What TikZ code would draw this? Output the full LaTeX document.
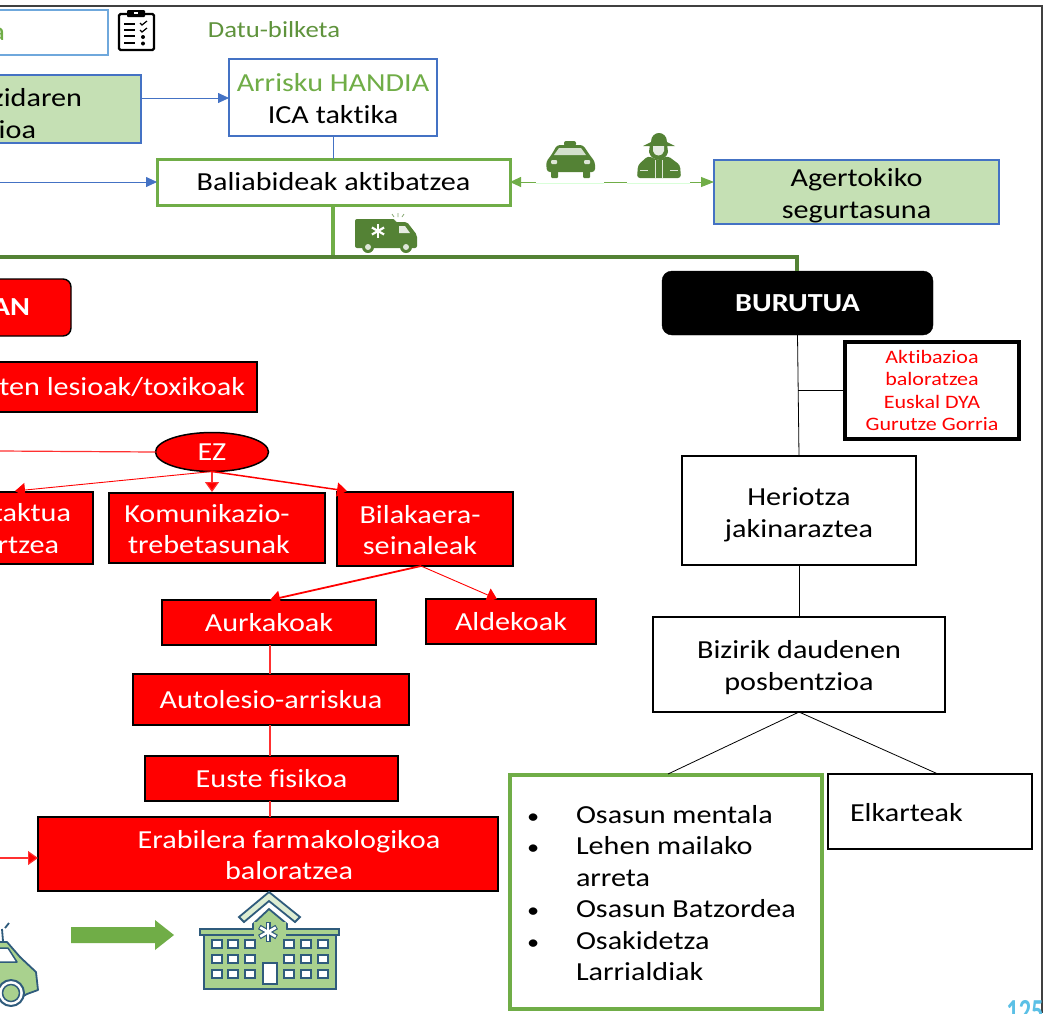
\documentclass[tikz,border=0pt]{standalone}
\usepackage{fontspec}
\setmainfont[FakeStretch=1.16,Ligatures={NoCommon}]{Carlito}
\usetikzlibrary{arrows.meta,shapes.geometric,calc}
\definecolor{gfill}{HTML}{C5E0B4}
\definecolor{bblue}{HTML}{4472C4}
\definecolor{lblue}{HTML}{6FA8DC}
\definecolor{lgreen}{HTML}{70AD47}
\definecolor{dgreen}{HTML}{548235}
\definecolor{lnpink}{HTML}{FF3030}
\definecolor{hgreen}{HTML}{A9D18E}
\definecolor{hblue}{HTML}{2F5B7C}
\definecolor{pagenum}{HTML}{5BC0E6}
\newcommand{\pbox}[7]{%
  \pgfmathsetmacro{\cxx}{(#3+#5)/2}\pgfmathsetmacro{\cyy}{(#4+#6)/2}%
  \pgfmathsetmacro{\www}{#5-#3}\pgfmathsetmacro{\hhh}{#6-#4}%
  \node[#2,minimum width=\www pt,minimum height=\hhh pt] (#1) at (\cxx,\cyy) {#7};}
\newcommand{\lowr}[1]{\rule{0pt}{#1pt}}
\tikzset{
  base/.style={rectangle,inner sep=0pt,outer sep=0pt,align=center,font=\fontsize{26}{31.5}\selectfont},
  txt/.style={inner sep=0pt,outer sep=0pt,align=center,font=\fontsize{26}{31.5}\selectfont},
  bluebox/.style={base,draw=bblue,line width=1.2pt,fill=white},
  greenfill/.style={base,draw=bblue,line width=1.2pt,fill=gfill},
  greenbox/.style={base,draw=lgreen,line width=3pt,fill=white},
  redbox/.style={base,draw=black,line width=1.4pt,fill=red,text=white},
  blackbox/.style={base,draw=black,line width=1.1pt,fill=white},
  blueln/.style={draw=bblue,line width=0.8pt},
  bluearr/.style={blueln,-{Triangle[length=11pt,width=10pt]}},
  greenln/.style={draw=lgreen,line width=0.9pt},
  redln/.style={draw=red,line width=0.9pt},
  pinkln/.style={draw=lnpink,line width=1.2pt},
  redarr/.style={-{Triangle[length=10pt,width=14pt,fill=red]}},
  ic/.style={fill=dgreen,draw=none},
}
\begin{document}
\begin{tikzpicture}[x=1pt,y=-1pt]
\useasboundingbox (0,0) rectangle (1049,1013);
\fill[white] (0,0) rectangle (1049,1013);
\clip (0,0) rectangle (1049,1013);
% frame
\draw[black!75,line width=1.4pt] (0,6) -- (1042,6) -- (1042,1013);
% top row
\pbox{datu}{base,draw=lblue,line width=1.6pt,fill=white}{-60}{10}{108}{55}{}
\node[txt,text=lgreen,anchor=east] (datuT) at (5,34) {a};
\node[txt,text=lgreen!85!black,font=\fontsize{23}{26}\selectfont] (bilketa) at (274,30) {Datu-bilketa};
% clipboard
\draw[black,line width=2.4pt,rounded corners=1.5pt,fill=white] (119,14) rectangle (154,50);
\fill[black,rounded corners=1pt] (127,10) rectangle (145,17);
\fill[white] (134,11.5) rectangle (138,14);
\foreach \yy in {24,30,36,43}{\draw[black,line width=1.8pt] (124,\yy) -- (135,\yy);}
\draw[black,line width=1.2pt] (140,23) -- (142,25) -- (147,21);
\draw[black,line width=1.2pt] (140,30) -- (142,32) -- (147,28);
\fill[black] (143,37) circle (2); \fill[black] (143,43.5) circle (2);
% green box + ICA
\pbox{gorabide}{greenfill}{-60}{75}{141}{143}{}
\node[txt,anchor=east] (gorabideA) at (82,98) {zidaren};
\node[txt,anchor=east] (gorabideB) at (36,130) {ioa};
\pbox{ica}{bluebox}{229}{59}{437}{136}{\lowr{20}\textcolor{lgreen}{Arrisku HANDIA}\\ICA taktika}
\pbox{balia}{greenbox}{157}{159}{510}{205}{Baliabideak aktibatzea}
\pbox{agert}{greenfill}{714}{160}{999}{224}{\lowr{25}Agertokiko\\segurtasuna}
\coordinate (g1) at (141,98);
\draw[bluearr] (g1) -- (g1-|ica.west);
\draw[blueln] (ica.south) -- (ica.south|-balia.north);
\coordinate (leftB) at (0,182);
\draw[bluearr] (leftB) -- (leftB-|balia.west);
\draw[greenln,{Triangle[length=11pt,width=10pt]}-{Triangle[length=13pt,width=10pt]}] (balia.east) -- (agert.west|-balia.east);
% taxi and police patches
\fill[white] (536,132) rectangle (604,184);
\fill[white] (627,128) rectangle (690,184);
\draw[green!15!white,line width=0.8pt] (536,183) -- (604,183) (627,183) -- (690,183);
% taxi
\fill[ic,rounded corners=2pt] (564,141) rectangle (576,146);
\fill[ic,rounded corners=3pt] (547,172) -- (546,162) -- (552,154) -- (557,145) -- (583,145) -- (589,154) -- (595,162) -- (595,172) -- cycle;
\fill[white!75!dgreen] (554,155) -- (559,148) -- (581,148) -- (586,155) -- cycle;
\fill[white!80!dgreen,rounded corners=1pt] (551,160) rectangle (557,164);
\fill[white!80!dgreen,rounded corners=1pt] (584,160) rectangle (590,164);
\fill[ic,rounded corners=1pt] (551,170) rectangle (558,178);
\fill[ic,rounded corners=1pt] (583,170) rectangle (590,178);
% police
\fill[ic] (651,142) .. controls (651,130) and (667,130) .. (667,142) -- (675,146) -- (643,146) -- cycle;
\fill[ic] (650,144) -- (667,144) -- (668,152) .. controls (666,162) and (651,162) .. (649,152) -- cycle;
\fill[white!85!dgreen] (653,146) -- (664,146) -- (664,151) .. controls (663,157) and (654,157) .. (653,151) -- cycle;
\fill[ic,rounded corners=3pt] (637,178) -- (638,165) -- (648,156) -- (658,160) -- (668,156) -- (680,165) -- (681,178) -- cycle;
\draw[white!80!dgreen,line width=0.8pt] (655,160) -- (655,178) (662,160) -- (662,178) (640,170) -- (648,170) (670,170) -- (678,170);
% main branch
\coordinate (branchL) at (0,257);
\coordinate (branchM) at (333,257);
\coordinate (branchR) at (797,257);
\pbox{burutua}{base,draw=black,fill=black,text=white,rounded corners=10pt,font=\fontsize{26}{30}\selectfont\bfseries}{662}{271}{933}{335}{BURUTUA}
\draw[lgreen,line width=4pt] (branchM|-balia.south) -- (branchM);
\draw[dgreen,line width=3.2pt,line join=miter] (branchL) -- (branchR) -- (branchR|-burutua.north);
% ambulance
\begin{scope}[shift={(2,3)}]
\fill[ic,rounded corners=2pt] (353,216) -- (393,216) -- (393,219) -- (405,219) -- (415,232) -- (415,245) -- (353,245) -- cycle;
\fill[ic] (366,244) circle (6); \fill[white!80!dgreen] (366,244) circle (3);
\fill[ic] (404,244) circle (6); \fill[white!80!dgreen] (404,244) circle (3);
\fill[white!85!dgreen] (397,223) -- (403,223) -- (408,230) -- (397,230) -- cycle;
\foreach \aa in {0,60,120}{\draw[white,line width=2.2pt,rotate around={\aa:(376,228)}] (376,221) -- (376,235);}
\draw[dgreen!70!white,line width=0.8pt] (396,210) -- (396,214) (390,211) -- (392,214) (402,211) -- (400,214);
\end{scope}
% red column
\pbox{anbox}{base,draw=black,line width=1.4pt,fill=red,rounded corners=8pt}{-40}{279}{71}{336}{}
\node[txt,text=white,anchor=east,font=\fontsize{26}{30}\selectfont\bfseries] (anT) at (30,307) {AN};
\pbox{lesio}{redbox}{-60}{362}{257}{412}{}
\node[txt,text=white,anchor=east] (lesioT) at (245,387) {ten lesioak/toxikoak};
\node[ellipse,draw=black,line width=1.5pt,fill=red,text=white,minimum width=113pt,minimum height=39pt,inner sep=0pt,outer sep=0pt,font=\fontsize{26}{30}\selectfont] (ez) at (212,452) {EZ};
\pbox{kontakt}{redbox}{-60}{492}{93}{564}{}
\node[txt,text=white,anchor=east] (kontaktA) at (71,513) {taktua};
\node[txt,text=white,anchor=east] (kontaktB) at (59,545) {rtzea};
\pbox{komun}{redbox}{109}{493}{325}{563}{}
\node[txt,text=white] (komunT) at (209,529) {\hspace*{-4pt}Komunikazio-\\trebetasunak};
\pbox{bilak}{redbox}{337}{492}{513}{566}{}
\node[txt,text=white] (bilakT) at (420,530) {Bilakaera-\\seinaleak};
\pbox{aurka}{redbox}{162}{600}{376}{645}{Aurkakoak}
\pbox{alde}{redbox}{426}{599}{596}{644}{Aldekoak}
\pbox{auto}{redbox}{133}{674}{409}{725}{Autolesio-arriskua}
\pbox{euste}{redbox}{145}{756}{398}{801}{Euste fisikoa}
\pbox{erabil}{base,draw=black,line width=2pt,fill=red,text=white}{38}{817}{498}{891}{}
\node[txt,text=white] (erabilT) at (289,855) {Erabilera farmakologikoa\\baloratzea};
\coordinate (ezL) at (0,451);
\draw[pinkln] (ezL) -- (ez.west);
\coordinate (toKon) at (15,491);
\coordinate (toKom) at (212,492);
\coordinate (toBil) at (347,491);
\draw[redln,redarr] (ez.south) -- (toKon);
\draw[pinkln,redarr] (ez.south) -- (toKom);
\draw[redln,line width=1.5pt,redarr] (ez.south) -- (toBil);
\coordinate (bilB) at (421,566);
\coordinate (toAur) at (270,600);
\coordinate (toAld) at (497,599);
\draw[redln,line width=1.8pt,redarr] (bilB) -- (toAur);
\draw[redln,redarr] (bilB) -- (toAld);
\coordinate (a1) at (270,645);
\draw[pinkln] (a1) -- (a1|-auto.north);
\coordinate (a2) at (270,725);
\draw[pinkln] (a2) -- (a2|-euste.north);
\coordinate (a3) at (270,801);
\draw[pinkln] (a3) -- (a3|-erabil.north);
\coordinate (erL) at (0,858);
\draw[pinkln,redarr] (erL) -- (erL-|erabil.west);
% block arrow
\fill[lgreen] (71,927) -- (155,927) -- (155,920) -- (174,935) -- (155,950) -- (155,943) -- (71,943) -- cycle;
% small ambulance
\begin{scope}[line join=round]
\draw[hblue,line width=1.8pt,fill=hgreen] (-5,942) -- (7,942) -- (20,957) -- (36,972) -- (38,990) -- (27,994) -- (20,998) -- (-5,998) -- cycle;
\fill[white] (-5,948) -- (8,948) -- (17,962) -- (-5,962) -- cycle;
\draw[hblue,line width=1.5pt] (-5,948) -- (8,948) -- (17,962) -- (-5,962);
\draw[hblue,line width=1.8pt] (5,928) -- (9,923);
\draw[hblue,line width=1.8pt] (2,929) -- (3,941);
\draw[hblue,line width=2pt,fill=white] (11,993) circle (13);
\draw[hblue,line width=1.5pt,fill=hgreen] (11,993) circle (8.5);
\end{scope}
% hospital
\begin{scope}[line join=miter]
\draw[hblue,line width=1.8pt,fill=hgreen] (204,934) -- (336,934) -- (336,989) -- (204,989) -- cycle;
\draw[hblue,line width=1.8pt,fill=hgreen] (200,929) rectangle (339,935);
\fill[hgreen,draw=hblue,line width=1.8pt] (253,929) -- (253,924) -- (269,909) -- (287,924) -- (287,929);
\fill[hgreen] (254,922) rectangle (286,936);
\draw[hblue,line width=1.8pt,fill=hgreen!40!white] (239,917) -- (269,892) -- (300,917) -- (295,922) -- (269,901) -- (244,922) -- cycle;
\foreach \aa in {0,60,120}{\draw[hblue,line width=5pt,rotate around={\aa:(268,932)}] (268,922) -- (268,942);}
\foreach \aa in {0,60,120}{\draw[white,line width=2.6pt,rotate around={\aa:(268,932)}] (268,923) -- (268,941);}
\foreach \xx in {217,233,250,289,306,323}{
  \foreach \yy in {944,959,974}{
    \draw[hblue,line width=2.2pt,fill=white] ($(\xx,\yy)+(-5,-4)$) rectangle ($(\xx,\yy)+(5,4)$);
  }}
\draw[hblue,line width=2pt,fill=white] (263,963) rectangle (277,984);
\end{scope}
% right column
\pbox{aktib}{base,draw=black,line width=4pt,fill=white,text=red,font=\fontsize{19}{22.3}\selectfont}{845}{342}{1019}{439}{Aktibazioa\\baloratzea\\Euskal DYA\\Gurutze Gorria}
\pbox{heriotza}{blackbox}{682}{456}{916}{565}{\lowr{26}Heriotza\\jakinaraztea}
\pbox{bizirik}{blackbox}{653}{617}{945}{712}{\lowr{24}Bizirik daudenen\\posbentzioa}
\pbox{osasun}{greenbox,line width=3.6pt}{510}{775}{822}{1009}{}
\pbox{elkar}{blackbox}{828}{774}{1032}{849}{}
\node[txt,anchor=west] (elkarT) at (850,813) {Elkarteak};
\coordinate (jn) at (798,390);
\draw[black,line width=0.8pt] (burutua.south) -- (heriotza.north);
\draw[black,line width=0.8pt] (jn) -- (jn-|aktib.west);
\draw[black,line width=0.8pt] (heriotza.south) -- (bizirik.north);
\coordinate (os1) at (668,774);
\coordinate (el1) at (938,774);
\draw[black,line width=0.8pt] (bizirik.south) -- (os1);
\draw[black,line width=0.8pt] (bizirik.south) -- (el1);
\newcommand{\blt}{{\fontsize{21}{17}\selectfont •}}
\node[txt,anchor=north west,align=left] (osT) at (527,801) {%
\begin{tabular}{@{}p{49pt}@{}l@{}}
\blt&Osasun mentala\\
\blt&Lehen mailako\\
&arreta\\
\blt&Osasun Batzordea\\
\blt&Osakidetza\\
&Larrialdiak
\end{tabular}};
% page number
\node[anchor=base,inner sep=0pt,text=pagenum,font=\fontsize{21}{26}\selectfont\bfseries] (pg) at (1025,1022) {\scalebox{1}[1.6]{125}};
\end{tikzpicture}
\end{document}
